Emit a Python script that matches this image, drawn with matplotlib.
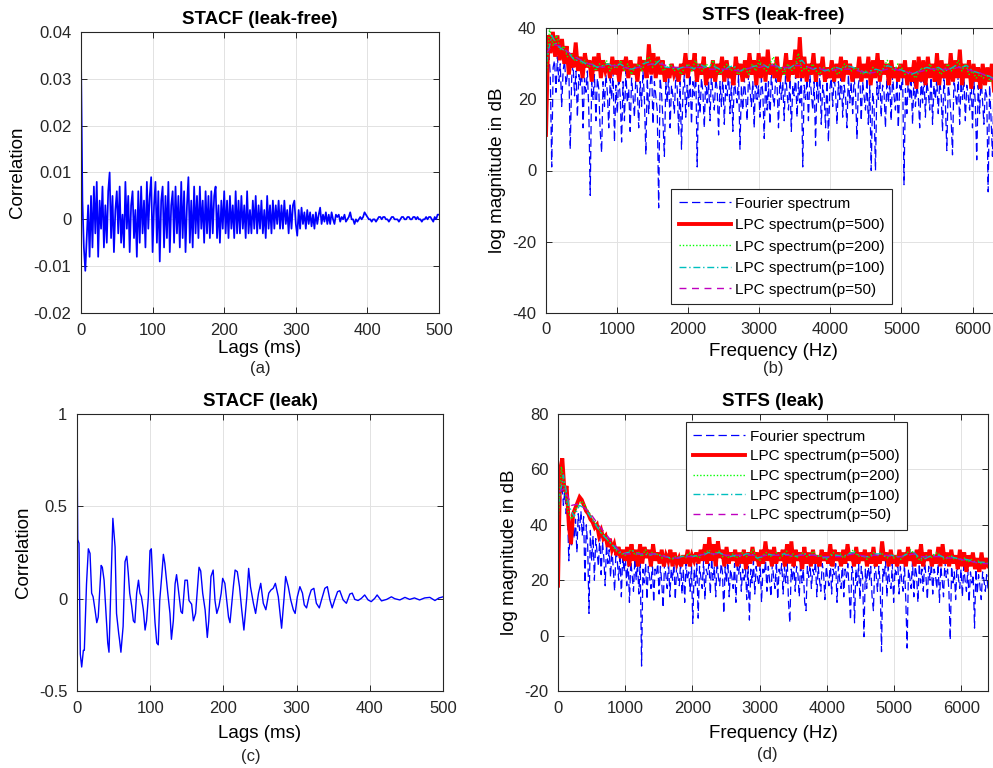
import numpy as np
import matplotlib
matplotlib.use('Agg')
import matplotlib.pyplot as plt

plt.rcParams['font.family'] = ['Liberation Sans', 'DejaVu Sans']
plt.rcParams['axes.unicode_minus'] = False
plt.rcParams['lines.scale_dashes'] = False

# ---- STACF leak-free (a): values in units of 1e-3, one sample every 2 ms ----
acf_free_milli = [
    35, 4, -6, -11, -4, 3, -8, 5, -6, 7,
    -3, 8, -8, 4, -2, 7, -6, 3, -5, 6,
    10, -4, 5, -7, 2, 6, -3, 7, -5, 1,
    -6, 8, -2, 5, -7, 3, 6, -4, 2, -8,
    6, -5, 7, -3, 4, -6, 8, -2, 5, 9,
    -7, 3, 8, -5, 6, -9, 4, 7, -6, 5,
    -4, 8, -7, 3, 6, -5, 7, -3, 5, -6,
    8, -4, 6, -7, 3, 9, -5, 4, -6, 7,
    -3, 5, -4, 7, -2, 4, -5, 6, -3, 5,
    -4, 6, -3, 5, 7, -4, 3, -5, 4, -2,
    6, -3, 4, -4, 5, -2, 3, -4, 6, -3,
    4, -3, 5, -2, 3, -4, 6, -3, 2, -3,
    4, -2, 5, -3, 3, -2, 4, -3, 2, -4,
    5, -2, 3, -3, 4, -2, 3, -1, 4, -2,
    3, -2, 4, -1, 2, -3, 3, -2, 3, 4,
    -1, -3.5, 2, -2, 2.5, -1, 1.5, -2, 2, -1,
    1.5, -1.5, 1, -2, 1.5, -1, 1, 2.5, -1, 1,
    -0.5, 1.5, -1, 1, -1, 1.5, 0, -1, 1, 0.5,
    1, -0.5, 0.5, 0, 1, -0.5, 0, 0.5, 1.5, 0,
    0, -1, 0, -0.5, 0, 0.5, 0, 0.5, 1.5, 1,
    0.5, 0, 0, -0.5, 0, 0, -0.5, 0, 0.5, 0.5,
    0, 0.5, 0.5, 0, 0, -0.5, 0, 0.5, 0.5, 0,
    0, 0, -0.5, 0, 0.5, 0.5, 0, 0, 0.5, 0.5,
    0, 0, 0.5, 0.5, 0, 0.5, 0, 0, -0.5, 0,
    0, 0.5, 0, 0.5, 0.5, 0, -0.5, 0.5, 0, 1,
    1,
]

# ---- STACF leak (c): lags (ms) and correlation ----
lag_leak = [0, 1, 2.7, 4.5, 6.4, 8.7, 10, 13, 15.5, 17.8, 20, 22, 24.6, 27, 29,
            33, 34.6, 37, 39.6, 42, 43.7, 46, 49, 52, 54, 57, 58, 60, 63, 65.6,
            68, 70, 72, 74.7, 77, 79, 81.5, 84, 86, 88, 90.6, 93, 95, 97.5, 99.7,
            101.5, 104, 106.6, 109, 111, 113, 115.7, 118, 120, 124, 127, 129, 131.6, 134, 136,
            138, 142, 144, 147.5, 150.7, 153, 156.6, 159, 162, 165, 166.7, 169, 171.7, 175, 178,
            180, 183, 186, 188.5, 191, 194, 197, 199, 202, 207, 209, 213.6, 216, 219, 222,
            225, 228, 232, 234.5, 237, 241, 244, 248, 251, 254.5, 258, 262, 265, 268, 271,
            275, 279.5, 283, 285, 288.6, 292, 295.5, 298, 301, 304.5, 308, 310.5, 313.6, 317, 320,
            323.6, 327, 331, 334, 338.6, 342, 345.5, 348.6, 352, 356, 359, 363.6, 368, 372.7, 376,
            379.5, 384, 388.6, 393, 397.7, 402, 406.8, 410, 416, 423, 429.5, 434, 441, 448, 454.5,
            461, 468, 475, 482, 489, 494.5, 500]
acf_leak = [0.93, 0.32, 0.30, -0.30, -0.37, -0.28, -0.28, 0.08, 0.27, 0.245, 0.03, 0.01, -0.06, -0.13, -0.10,
            0.18, 0.17, 0.10, -0.08, -0.24, -0.29, 0.03, 0.435, 0.28, -0.08, -0.19, -0.22, -0.29, -0.15, 0.20,
            0.23, 0.14, 0.03, -0.04, -0.12, -0.13, 0.03, 0.10, 0.03, 0.01, -0.06, -0.17, -0.12, 0.01, 0.26,
            0.27, 0.05, -0.13, -0.24, -0.25, -0.01, 0.12, 0.24, 0.19, 0.03, -0.08, -0.22, -0.12, 0.08, 0.13,
            0.065, -0.07, -0.08, 0.10, 0.10, -0.01, -0.03, -0.12, -0.08, 0.08, 0.17, 0.15, 0.03, -0.06, -0.21,
            -0.12, 0.12, 0.155, -0.01, -0.08, -0.04, 0.03, 0.11, 0.083, -0.10, -0.13, 0.065, 0.155, 0.146, 0.065,
            -0.06, -0.17, 0.01, 0.164, 0.065, -0.025, -0.08, 0.03, 0.083, -0.025, -0.06, 0.03, 0.047, 0.056, 0.083,
            0.01, -0.16, 0.01, 0.12, 0.065, -0.007, -0.06, -0.08, 0.01, 0.065, 0.03, -0.034, -0.05, 0.01, 0.047,
            0.056, -0.025, -0.05, -0.007, 0.056, 0.065, -0.007, -0.05, -0.007, 0.038, 0.043, -0.007, -0.025, 0.025, 0.03,
            -0.004, -0.01, 0.002, 0.02, -0.007, -0.016, 0.002, 0.02, -0.012, -0.004, 0.01, 0.0, -0.007, 0.007, -0.004,
            0.004, -0.007, 0.004, 0.007, -0.01, 0.004, 0.01]

# ---- STFS leak-free (b), dB, 0..6400 Hz ----
fourier_free = [
    8, 30, 33, 27, 1, 29, 31, 22, 32, 25, 30, 18, 28, 31, 24, 27, 29, 6, 26, 30,
    21, 28, 15, 27, 24, 29, 12, 26, 22, 28, 17, -7, 25, 20, 27, 14, 26, 23, 11, 5,
    25, 18, 27, 22, 12, 26, 20, 28, 8, 24, 16, 27, 21, 8, 25, 14, 28, 19, 23, 11,
    26, 21, 15, 27, 23, 12, 25, 18, 28, 20, 4.5, 26, 16, 24, 29, 13, 25, 21, 17, -10.5,
    26, 22, 14, 4, 25, 19, 27, 12, 24, 21, 16, 27, 23, 10, 25, 6, 22, 27, 15, 24,
    18, 27, 13, 25, 21, 28, 1, 24, 16, 26, 22, 12, 27, 19, 25, 14, 28, 21, 17, 26,
    23, 10, 25, 18, 27, 13, 24, 21, 28, 16, 25, 11, 26, 22, 19, 27, 6, 24, 17, 26,
    21, 14, 27, 23, 18, 25, 12, 28, 20, 24, 15, 26, 22, 9, 27, 17, 25, 13, 28, 21,
    18, 26, 24, 12, 27, 20, 25, 14, 28, 22, 17, 26, 11, 24, 21, 27, 15, 25, 19, 28,
    1, 24, 20, 26, 14, 27, 22, 17, 25, 7, 26, 19, 28, 13, 24, 21, 12, 27, 8, 23,
    26, 18, 27, 22, 13, 25, 20, 28, 15, 24, 21, 12, 27, 19, 25, 16, 26, 22, 9, 24,
    27, 14, 25, 21, 17, 26, 13, 24, 0, 22, 18, 0, 25, 20, 27, 15, 24, 22, 12, 26,
    19, 25, 14, 27, 21, 17, 26, 12, 24, 22, 28, -4, 23, 16, 26, 20, 25, 13, 27, 18,
    24, 21, 12, 26, 19, 27, 15, 25, 22, 17, 28, 13, 24, 20, 26, 16, 25, 22, 11, 27,
    19, 5.6, 24, 21, 15, 4.4, 26, 22, 18, 27, 13, 25, 20, 26, 14, 24, 21, 17, 27, 12,
    25, 19, 3, 24, 16, 26, 20, 13, 23, 21, -6, 24, 15, 4, 22, 18, 24, 14, 22, 17,
]
lpc500_free = [
    10, 38, 33, 39, 32, 38, 31, 37, 30, 35, 27, 33, 29, 36, 28, 32, 26, 33, 29, 31,
    25, 32, 28, 33, 26, 31, 28, 30, 26, 32, 27, 31, 25, 31, 28, 32, 26, 31, 27, 30,
    25, 32, 28, 31, 26, 35.5, 27, 33, 26, 32, 27, 31, 25, 29, 26, 30, 27, 29, 25, 30,
    27, 33, 26, 31, 28, 33, 25, 30, 27, 32, 24, 29, 26, 31, 25, 30, 27, 32, 25, 31,
    26, 29, 24, 32, 27, 30, 25, 31, 26, 33, 27, 31, 24, 33, 26, 32, 25, 34, 27, 30,
    26, 32, 25, 29, 27, 33, 25, 31, 27, 34, 26, 37.5, 26, 32, 25, 30, 27, 33, 25, 30,
    27, 32, 25, 29, 26, 31, 25, 30, 26, 32, 25, 31, 27, 30, 25, 29, 26, 32, 25, 30,
    26, 32, 24, 31, 26, 33, 25, 31, 27, 30, 24, 31, 26, 29, 25, 30, 26, 31, 24, 29,
    25, 31, 23, 32, 25, 31, 24, 32, 26, 30, 25, 33, 24, 31, 26, 30, 24, 33, 25, 31,
    26, 34, 24, 30, 26, 31, 23, 30, 25, 29, 23, 30, 24, 29, 25, 30, 22, 28, 23, 27,
]
lpc200_free = [
    25, 40, 35, 38, 34, 35, 32, 33, 31, 32, 30, 31, 29, 30, 28, 30, 29, 31, 28, 30,
    29, 31, 28, 30, 27, 29, 30, 28, 31, 32, 29, 31, 30, 28, 29, 30, 28, 29, 27, 29,
    30, 28, 31, 29, 28, 30, 29, 31, 28, 27, 29, 30, 28, 29, 27, 28, 29, 27, 30, 28,
    31, 29, 28, 30, 32, 28, 29, 27, 30, 28, 29, 33, 28, 29, 28, 30, 28, 27, 29, 28,
    28, 29, 27, 28, 30, 29, 28, 29, 28, 27, 28, 27, 29, 28, 27, 29, 31, 29, 28, 30,
    29, 27, 28, 27, 26, 28, 29, 28, 30, 28, 29, 27, 28, 30, 28, 29, 31, 28, 30, 27,
    28, 26, 27, 26, 27, 25, 26, 24, 25,
]
lpc100_free = [
    30, 38, 35, 34, 33, 31, 31, 30, 30, 29, 29.5, 30, 29, 30, 29, 28.5, 29, 30, 30.5, 29.5,
    31, 29, 29, 28.5, 29, 29.5, 28.5, 30, 29, 29.5, 29, 28, 29, 29.5, 28, 28.5, 29, 29.5, 30, 29,
    30, 29, 28.5, 29, 30, 31, 29, 28.5, 29, 28, 28.5, 29, 28.5, 29.5, 29, 28.5, 27.5, 28, 28.5, 28,
    29.5, 29, 28.5, 28, 27, 27.5, 28.5, 29, 28.5, 29, 28, 28.5, 29.5, 29, 29.5, 28, 27.5, 27, 26.5, 25.5,
    25,
]
lpc50_free = [
    33, 35.5, 35, 33.5, 32, 31, 30, 29.5, 29, 29.5, 29.5, 29, 28.5, 29, 29.5, 30, 30, 29.5, 29, 29,
    29, 29, 29, 28.5, 28.5, 28.5, 28.5, 28, 28.5, 29, 29, 29.5, 29.5, 29, 29, 29.5, 29.5, 29, 28.5, 28.5,
    28, 28.5, 28.5, 28.5, 28, 27.5, 27.5, 28, 28.5, 28.5, 28, 27.5, 27.5, 28, 28.5, 28.5, 28.5, 28.5, 29, 28.5,
    28, 27.5, 26.5, 25.5, 25,
]

# ---- STFS leak (d), dB, 0..6400 Hz ----
fourier_leak = [
    20, 40, 50, 55, 47, 52, 44, 46, 27, 38, 32, 40, 35, 42, 30, 44, 38, 45, 36, 43,
    19, 40, 33, 8, 38, 27, 36, 20, 35, 30, 25, 36, 22, 34, 28, 18, 33, 26, 31, 21,
    32, 24, 16, 31, 27, 20, 30, 14, 29, 23, 28, 18, 29, 12, 27, 22, 16, 28, 20, 26,
    15, 27, -11, 24, 19, 26, 13, 25, 21, 17, 27, 12, 24, 22, 26, 15, 25, 19, 10, 26,
    22, 17, 27, 14, 24, 20, 26, 13, 25, 21, 18, 27, 15, 24, 12, 26, 20, 23, 16, 25,
    4.4, 24, 18, 26, 6.3, 25, 21, 17, 27, 13, 24, 22, 26, 15, 28, 20, 25, 14, 27, 21,
    18, 26, 23, 8, 25, 19, 27, 14, 24, 21, 17, 26, 12, 25, 22, 27, 16, 24, 20, 26,
    13, 25, 5.6, 24, 19, 27, 15, 25, 21, 18, 26, 12, 24, 22, 27, 16, 25, 20, 14, 26,
    21, 17, 27, 13, 24, 22, 26, 15, 25, 19, 28, 12, 4.6, 24, 20, 26, 16, 25, 22, 14,
    27, 19, 24, 12, 9, 25, 21, 26, 17, 24, 22, 27, 14, 25, 20, 16, 26, 23, 13, 25,
    21, 18, 27, 15, 24, 22, 26, 12, 25, 20, 17, 27, 14, 24, 21, 26, 16, 5.6, 25, 22,
    4.6, 24, 18, 26, 13, 25, 21, -0.4, 24, 17, 27, 20, 25, 14, 9, 26, 22, 16, 25, 19,
    -5.8, 24, 21, 27, 14, 25, 19, 17, 26, 12, 24, 22, 27, 15, 25, 20, 16, 26, 13, -4.5,
    24, 21, 17, 27, 14, 25, 22, 12, 26, 19, 24, 16, 27, 21, 13, 25, 20, 26, 15, 24,
    22, 17, 26, 12, 25, 20, 14, 27, 21, 24, 16, -1.6, 25, 19, 23, 13, 26, 21, 17, 24,
    14, 25, 20, 16, 24, 12, 23, 19, 22, 2.7, 24, 15, 22, 18, 13, 23, 20, 16, 22, 17,
]
lpc500_leak = [
    18, 60, 64, 52, 54, 40, 33, 44, 46, 48, 50, 49, 47, 45, 44, 42, 41, 39, 40, 36,
    38, 35, 36, 32, 35, 31, 33, 29, 32, 28, 31, 27, 32, 25, 33, 27, 31, 25, 33, 26,
    32, 28, 31, 25, 33, 27, 30, 26, 31, 25, 29, 27, 31, 25, 30, 26, 28, 25, 29, 26,
    31, 25, 29, 27, 30, 26, 31, 27, 33, 26, 35.5, 27, 33, 25, 34, 28, 31, 25, 32, 26,
    30, 27, 31, 25, 30, 26, 31, 24, 30, 26, 32, 27, 30, 25, 31, 26, 34, 27, 31, 25,
    32, 26, 30, 27, 31, 25, 33, 26, 34, 25, 31, 27, 30, 24, 32, 26, 30, 25, 31, 26,
    29, 25, 31, 27, 30, 26, 33, 25, 31, 27, 30, 25, 31, 26, 33, 27, 30, 25, 32, 26,
    30, 27, 31, 25, 30, 26, 32, 25, 29, 26, 34, 27, 30, 25, 31, 26, 29, 25, 31, 26,
    30, 25, 32, 27, 30, 25, 31, 26, 33, 25, 30, 27, 31, 25, 29, 26, 32, 25, 33, 26,
    30, 25, 31, 26, 29, 24, 31, 25, 30, 23, 29, 25, 30, 24, 28, 23, 30, 24, 28, 25,
]
lpc200_leak = [
    40, 61, 52, 45, 42, 45, 47, 48.5, 47, 45, 43, 41, 39, 37, 36, 34, 33, 31, 30, 29.5,
    29, 30.5, 31, 29, 30, 28.5, 31, 29, 30, 29, 29.5, 28, 29, 28, 27.5, 28.5, 28, 29, 28, 30,
    28.5, 29, 28, 29.5, 30, 31, 29, 30, 30.5, 28.5, 29, 28, 29.5, 28, 29, 30, 28.5, 29, 31, 28.5,
    27, 29, 30, 28.5, 29, 30, 28, 29, 30.5, 28.5, 29.5, 28, 29, 30, 28.5, 29, 30.5, 28.5, 29, 28,
    27.5, 29, 30, 28.5, 29.5, 28, 29, 30, 31, 29, 28.5, 29, 27.5, 29, 30, 28.5, 30, 29, 28, 29.5,
    28, 29, 27.5, 29, 30, 31, 29.5, 28, 27, 28.5, 29, 28, 29.5, 30, 28.5, 27.5, 28, 29, 27.5, 28,
    27, 28, 26.5, 27.5, 26, 27, 26, 26.5, 26,
]
lpc100_leak = [
    47, 58, 47, 43, 47, 46, 43, 40, 37, 35, 33, 31, 29.5, 30, 30.5, 29.5, 29.5, 29, 29.5, 29,
    28.5, 28, 28, 28.5, 29, 28.5, 29, 29, 30, 29.5, 30, 29, 28.5, 29, 28.5, 29.5, 29.5, 28, 28.5, 29.5,
    29, 29, 29.5, 29, 28.5, 29, 29.5, 29, 29, 28.5, 28, 29, 29, 28.5, 29.5, 30, 29, 28.5, 28.5, 29.5,
    29.5, 28.5, 29, 28.5, 28.5, 29.5, 30.5, 28.5, 27.5, 28.5, 29, 29, 28, 28.5, 28, 27.5, 27.5, 27, 26.5, 26.5,
    26,
]
lpc50_leak = [
    52, 53, 47, 47.5, 46, 43.5, 40, 37, 34, 31, 29.5, 29.5, 29.5, 29.5, 29.5, 29, 28.5, 28, 28, 28.5,
    28.5, 29, 29.5, 29.5, 29.5, 29, 29, 29, 29, 29, 28.5, 29, 29, 29, 29, 29, 29, 29, 29, 28.5,
    28.5, 28.5, 28.5, 29, 29.5, 29, 28.5, 29, 29, 29, 28.5, 28.5, 29, 29.5, 28.5, 28.5, 28.5, 28.5, 28, 28,
    27.5, 27, 26.5, 26, 26,
]

legend_labels = ['Fourier spectrum', 'LPC spectrum(p=500)', 'LPC spectrum(p=200)',
                 'LPC spectrum(p=100)', 'LPC spectrum(p=50)']
acf_free_ticks = [-0.02, -0.01, 0, 0.01, 0.02, 0.03, 0.04]
acf_free_ticklabels = ['-0.02', '-0.01', '0', '0.01', '0.02', '0.03', '0.04']
acf_leak_ticks = [-0.5, 0, 0.5, 1]
acf_leak_ticklabels = ['-0.5', '0', '0.5', '1']

W, H = 993, 768
fig = plt.figure(figsize=(W / 100, H / 100), dpi=100)


def px_axes(l, t, r, b):
    return fig.add_axes([l / W, 1 - b / H, (r - l) / W, (b - t) / H])


def style(ax):
    ax.grid(True, color='#e2e2e2', lw=0.7)
    ax.set_axisbelow(True)
    ax.tick_params(direction='in', top=True, right=True, length=4, width=0.7,
                   color='#262626', labelsize=12, pad=7, labelcolor='#262626')
    for s in ax.spines.values():
        s.set_color('#262626')
        s.set_linewidth(0.8)


ax_a = px_axes(81, 32, 439, 313)
ax_b = px_axes(546, 28.3, 1001, 312.7)
ax_c = px_axes(77, 414, 443, 691)
ax_d = px_axes(558, 414, 988, 691)

title_kw = dict(fontsize=13.5, fontweight='bold', pad=6)

# (a)
lags_a = np.arange(len(acf_free_milli)) * 2.0
ax_a.plot(lags_a, np.array(acf_free_milli) / 1000.0, color='b', lw=1.25)
ax_a.set_xlim(0, 500)
ax_a.set_ylim(-0.02, 0.04)
ax_a.set_xticks([0, 100, 200, 300, 400, 500])
ax_a.set_yticks(acf_free_ticks)
ax_a.set_yticklabels(acf_free_ticklabels)
ax_a.set_title('STACF (leak-free)', **title_kw)
ax_a.set_ylabel('Correlation', fontsize=13.5)
ax_a.set_xlabel('Lags (ms)', fontsize=13.5)

# (c)
ax_c.plot(lag_leak, acf_leak, color='b', lw=1.0)
ax_c.set_xlim(0, 500)
ax_c.set_ylim(-0.5, 1)
ax_c.set_xticks([0, 100, 200, 300, 400, 500])
ax_c.set_yticks(acf_leak_ticks)
ax_c.set_yticklabels(acf_leak_ticklabels)
ax_c.set_title('STACF (leak)', **title_kw)
ax_c.set_ylabel('Correlation', fontsize=13.5)
ax_c.set_xlabel('Lags (ms)', fontsize=13.5)


def spectrum(ax, series):
    styles = [
        dict(color='b', lw=0.9, dashes=(6, 3)),
        dict(color='r', lw=2.8, solid_joinstyle='miter'),
        dict(color='#00ff00', lw=1.0, dashes=(1, 1.4)),
        dict(color='c', lw=1.0, dashes=(5, 2, 1, 2)),
        dict(color='m', lw=1.0, dashes=(5, 4)),
    ]
    for vals, st, lab in zip(series, styles, legend_labels):
        f = np.linspace(0, 6400, len(vals))
        ax.plot(f, vals, label=lab, **st)
    ax.set_xlim(0, 6400)
    ax.set_xticks([0, 1000, 2000, 3000, 4000, 5000, 6000])
    ax.set_ylabel('log magnitude in dB', fontsize=13.5)
    ax.set_xlabel('Frequency (Hz)', fontsize=13.5)


spectrum(ax_b, [fourier_free, lpc500_free, lpc200_free, lpc100_free, lpc50_free])
ax_b.set_ylim(-40, 40)
ax_b.set_yticks([-40, -20, 0, 20, 40])
ax_b.set_title('STFS (leak-free)', **title_kw)

spectrum(ax_d, [fourier_leak, lpc500_leak, lpc200_leak, lpc100_leak, lpc50_leak])
ax_d.set_ylim(-20, 80)
ax_d.set_yticks([-20, 0, 20, 40, 60, 80])
ax_d.set_title('STFS (leak)', **title_kw)

leg_kw = dict(loc='lower left', fontsize=11, frameon=True, fancybox=False,
              edgecolor='#262626', framealpha=1, borderaxespad=0,
              handlelength=3.4, handletextpad=0.3, borderpad=0.5)
lb = ax_b.legend(bbox_to_anchor=(125 / 455, 8.4 / 284.4), labelspacing=0.49, **leg_kw)
ld = ax_d.legend(bbox_to_anchor=(127.7 / 430, 161 / 277), labelspacing=0.37, **leg_kw)
for lg in (lb, ld):
    lg.get_frame().set_linewidth(0.8)

for ax in (ax_a, ax_b, ax_c, ax_d):
    style(ax)
    ax.xaxis.label.set_verticalalignment('center')
    ax.yaxis.label.set_verticalalignment('center')

# label positions (pixel -> axes fraction)
ax_a.xaxis.set_label_coords(0.5, (313 - 349) / 281)
ax_a.yaxis.set_label_coords((17 - 81) / 358, 0.5)
ax_b.xaxis.set_label_coords(0.5, (312.7 - 351) / 284.4)
ax_b.yaxis.set_label_coords((498 - 546) / 455, 0.5)
ax_c.xaxis.set_label_coords(0.5, (691 - 733) / 277)
ax_c.yaxis.set_label_coords((23 - 77) / 366, 0.5)
ax_d.xaxis.set_label_coords(0.5, (691 - 733) / 277)
ax_d.yaxis.set_label_coords((510 - 558) / 430, 0.5)

for txt, x, y in [('(a)', 260, 369), ('(b)', 773, 369), ('(c)', 251, 757), ('(d)', 767, 754)]:
    fig.text(x / W, 1 - y / H, txt, ha='center', va='center', fontsize=12, color='#262626')

fig.savefig('out.png', dpi=100)
